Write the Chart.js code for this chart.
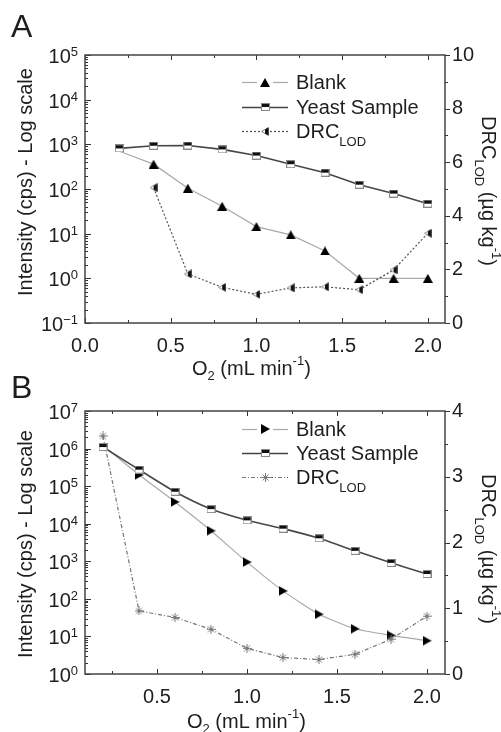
<!DOCTYPE html>
<html>
<head>
<meta charset="utf-8">
<script src="https://cdn.jsdelivr.net/npm/chart.js@4.4.1/dist/chart.umd.min.js"></script>
<style>
  html, body { margin: 0; padding: 0; background: #fff; }
  #wrap { position: relative; width: 501px; height: 732px; }
  #cA, #cB { position: absolute; left: 0; }
  #cA { top: 0; }
  #cB { top: 366px; }
</style>
</head>
<body>
<div id="wrap">
  <canvas id="cA" width="501" height="382"></canvas>
  <canvas id="cB" width="501" height="366"></canvas>
</div>
<script>
// O2 flow (mL/min)
const o2 = [0.2, 0.4, 0.6, 0.8, 1.0, 1.2, 1.4, 1.6, 1.8, 2.0];

// panel A
const blankA = [700, 360, 104, 41, 14.4, 9.4, 4.1, 1, 1, 1];
const yeastA = [810, 930, 940, 770, 560, 360, 232, 125, 79, 47];
const drcA = [null, 5.05, 1.83, 1.33, 1.07, 1.31, 1.35, 1.24, 1.98, 3.35];
const xTicksA = [0, 0.5, 1.0, 1.5, 2.0];
const yTicksA = [0.1, 1, 10, 100, 1000, 10000, 100000];
const y2TicksA = [0, 2, 4, 6, 8, 10];

// panel B
const blankB = [1.2e6, 2.0e5, 3.8e4, 6.5e3, 950, 163, 39, 16, 10.7, 7.7];
const yeastB = [1.1e6, 2.75e5, 7.1e4, 2.45e4, 1.23e4, 7.4e3, 4.1e3, 1.9e3, 910, 460];
const drcB = [3.62, 0.96, 0.86, 0.68, 0.39, 0.25, 0.22, 0.30, 0.53, 0.88];
const xTicksB = [0.5, 1.0, 1.5, 2.0];
const yTicksB = [1, 10, 100, 1000, 10000, 100000, 1000000, 10000000];
const y2TicksB = [0, 1, 2, 3, 4];

const FONT = '"Liberation Sans", Arial, sans-serif';
const INK = '#1e1e1e';

function pts(xs, ys) {
  return xs.map((x, i) => ({ x: x, y: ys[i] })).filter(p => p.y !== null);
}

// small marker pictures
function marker(w, h, draw) {
  const c = document.createElement('canvas');
  c.width = w; c.height = h;
  draw(c.getContext('2d'), w, h);
  return c;
}
const mSquare = marker(9, 8, (g, w, h) => {
  g.fillStyle = '#fff'; g.fillRect(0, 0, w, h);
  g.fillStyle = '#111'; g.fillRect(0, 0, w, 4);
  g.strokeStyle = '#888'; g.lineWidth = 1; g.strokeRect(0.5, 0.5, w - 1, h - 1);
});
const mTriUp = marker(10, 9, (g, w, h) => {
  g.fillStyle = '#000';
  g.beginPath(); g.moveTo(w / 2, 0); g.lineTo(w, h); g.lineTo(0, h); g.closePath(); g.fill();
});
const mTriRight = marker(9, 10, (g, w, h) => {
  g.fillStyle = '#000';
  g.beginPath(); g.moveTo(0, 0); g.lineTo(w, h / 2); g.lineTo(0, h); g.closePath(); g.fill();
});
const mTriLeft = marker(8, 9, (g, w, h) => {
  g.beginPath(); g.moveTo(0.5, h / 2); g.lineTo(w - 0.5, 0.5); g.lineTo(w - 0.5, h - 0.5); g.closePath();
  g.fillStyle = '#fff'; g.fill();
  g.strokeStyle = '#888'; g.lineWidth = 1; g.stroke();
  g.save(); g.clip(); g.fillStyle = '#111'; g.fillRect(w - 4, 0, 4, h); g.restore();
});
const mStar = marker(9, 9, (g, w, h) => {
  g.strokeStyle = '#7a7a7a'; g.lineWidth = 1;
  g.beginPath();
  g.moveTo(0, 4.5); g.lineTo(9, 4.5);
  g.moveTo(4.5, 0); g.lineTo(4.5, 9);
  g.moveTo(1.5, 1.5); g.lineTo(7.5, 7.5);
  g.moveTo(7.5, 1.5); g.lineTo(1.5, 7.5);
  g.stroke();
});

// text made of pieces: [text, size, dy]
function partsWidth(ctx, parts) {
  let w = 0;
  parts.forEach(p => { ctx.font = p[1] + 'px ' + FONT; w += ctx.measureText(p[0]).width; });
  return w;
}
function drawParts(ctx, parts, x, y) {
  let cx = x;
  parts.forEach(p => {
    ctx.font = p[1] + 'px ' + FONT;
    ctx.fillText(p[0], cx, y + p[2]);
    cx += ctx.measureText(p[0]).width;
  });
}

function seg(ctx, x1, y1, x2, y2) {
  ctx.beginPath(); ctx.moveTo(x1, y1); ctx.lineTo(x2, y2); ctx.stroke();
}

const decor = {
  id: 'decor',
  afterDraw(chart, args, o) {
    const ctx = chart.ctx;
    const a = chart.chartArea;
    const sx = chart.scales.x, sy = chart.scales.y, sy2 = chart.scales.y2;
    ctx.save();

    // tick marks
    ctx.strokeStyle = '#333';
    ctx.lineWidth = 1;
    const x0 = Math.ceil(sx.min / 0.25 - 1e-9) * 0.25;
    for (let v = x0; v <= sx.max + 1e-9; v += 0.25) {
      const px = Math.round(sx.getPixelForValue(v)) + 0.5;
      const major = Math.abs(v * 2 - Math.round(v * 2)) < 1e-6;
      const len = major ? 5 : 3;
      seg(ctx, px, a.bottom, px, a.bottom - len);
      seg(ctx, px, a.top, px, a.top + len);
    }
    for (let i = 0; i < o.yTicks.length; i++) {
      const d = o.yTicks[i];
      const py = Math.round(sy.getPixelForValue(d)) + 0.5;
      seg(ctx, a.left, py, a.left + 6, py);
      if (i < o.yTicks.length - 1) {
        for (let k = 2; k <= 9; k++) {
          const pm = Math.round(sy.getPixelForValue(d * k)) + 0.5;
          seg(ctx, a.left, pm, a.left + 3, pm);
        }
      }
    }
    for (let v = sy2.min; v <= sy2.max + 1e-9; v += o.y2Minor) {
      const py = Math.round(sy2.getPixelForValue(v)) + 0.5;
      const major = o.y2Ticks.some(t => Math.abs(t - v) < 1e-6);
      seg(ctx, a.right, py, a.right + (major ? 5 : 3), py);
    }

    // frame
    ctx.strokeStyle = '#444';
    ctx.lineWidth = 1.5;
    ctx.strokeRect(a.left, a.top, a.right - a.left, a.bottom - a.top);

    ctx.fillStyle = INK;
    ctx.textBaseline = 'alphabetic';
    ctx.textAlign = 'left';

    // panel letter
    ctx.font = '32px ' + FONT;
    ctx.fillText(o.letter, o.letterX, o.letterY);

    // log tick labels 10^n
    o.yTicks.forEach(d => {
      const py = sy.getPixelForValue(d);
      const e = String(Math.round(Math.log10(d))).replace('-', '\u2212');
      ctx.font = '13px ' + FONT;
      const ew = ctx.measureText(e).width;
      ctx.fillText(e, 78 - ew, py + 1);
      ctx.font = '20px ' + FONT;
      const bw = ctx.measureText('10').width;
      ctx.fillText('10', 78 - ew - bw, py + 8);
    });

    // left title
    ctx.save();
    ctx.translate(26, o.leftTitleY);
    ctx.rotate(-Math.PI / 2);
    ctx.font = '20px ' + FONT;
    ctx.textAlign = 'center';
    ctx.textBaseline = 'middle';
    ctx.fillText('Intensity (cps) - Log scale', 0, 0);
    ctx.restore();

    // x title
    drawParts(ctx, [['O', 20, 0], ['2', 13, 5], [' (mL min', 20, 0], ['-1', 13, -10], [')', 20, 0]], o.xTitleX, o.xTitleY);

    // right title
    const rParts = [['DRC', 20, 0], ['LOD', 13, 7], [' (\u00b5g kg', 20, 0], ['-1', 13, -10], [')', 20, 0]];
    const rw = partsWidth(ctx, rParts);
    ctx.save();
    ctx.translate(482, o.rightTitleY);
    ctx.rotate(Math.PI / 2);
    drawParts(ctx, rParts, -rw / 2, 0);
    ctx.restore();

    // legend
    o.legend.forEach((it, i) => {
      const y = o.legendRows[i];
      ctx.save();
      ctx.strokeStyle = it.color;
      ctx.lineWidth = it.width;
      ctx.setLineDash(it.dash || []);
      if (it.gap) {
        seg(ctx, 242, y + 0.5, 257, y + 0.5);
        seg(ctx, 273, y + 0.5, 288, y + 0.5);
      } else {
        seg(ctx, 242, y + 0.5, 288, y + 0.5);
      }
      ctx.restore();
      ctx.drawImage(it.marker, Math.round(265 - it.marker.width / 2), Math.round(y - it.marker.height / 2));
      ctx.fillStyle = INK;
      drawParts(ctx, it.text, 296, y + 7);
    });

    ctx.restore();
  }
};

function panel(id, p) {
  return new Chart(document.getElementById(id), {
    type: 'line',
    data: {
      datasets: [
        {
          label: 'Blank', data: pts(o2, p.blank), yAxisID: 'y', order: 2,
          borderColor: '#a9a9a9', borderWidth: 1.2, tension: p.tension,
          pointStyle: p.blankMarker, pointRadius: p.blank.map((v, i) => i === 0 ? 0 : 4)
        },
        {
          label: 'Yeast Sample', data: pts(o2, p.yeast), yAxisID: 'y', order: 0,
          borderColor: '#474747', borderWidth: 1.6, tension: p.tension,
          pointStyle: mSquare, pointRadius: 4
        },
        {
          label: 'DRC LOD', data: pts(o2, p.drc), yAxisID: 'y2', order: 1,
          borderColor: p.drcColor, borderWidth: 1.2, borderDash: p.drcDash, tension: 0,
          pointStyle: p.drcMarker, pointRadius: 4
        }
      ]
    },
    options: {
      responsive: false,
      animation: false,
      events: [],
      devicePixelRatio: 1,
      layout: { padding: { top: p.top, left: 0, right: 0, bottom: 0 } },
      plugins: {
        legend: { display: false },
        tooltip: { enabled: false },
        decor: p.decor
      },
      scales: {
        x: {
          type: 'linear', min: p.xMin, max: 2.1,
          afterBuildTicks: s => { s.ticks = p.xTicks.map(v => ({ value: v })); },
          afterFit: s => { s.height = p.xHeight; },
          ticks: { font: { size: 20, family: FONT }, color: INK, padding: 11, autoSkip: false, maxRotation: 0,
                   callback: v => Number(v).toFixed(1) },
          grid: { display: false, drawTicks: false },
          border: { display: false }
        },
        y: {
          type: 'logarithmic', position: 'left', min: p.yTicks[0], max: p.yTicks[p.yTicks.length - 1],
          afterBuildTicks: s => { s.ticks = p.yTicks.map(v => ({ value: v })); },
          afterFit: s => { s.width = 85; },
          ticks: { display: false },
          grid: { display: false, drawTicks: false },
          border: { display: false }
        },
        y2: {
          type: 'linear', position: 'right', min: 0, max: p.y2Ticks[p.y2Ticks.length - 1],
          afterBuildTicks: s => { s.ticks = p.y2Ticks.map(v => ({ value: v })); },
          afterFit: s => { s.width = 56; },
          ticks: { font: { size: 20, family: FONT }, color: INK, padding: 7 },
          grid: { display: false, drawTicks: false },
          border: { display: false }
        }
      }
    },
    plugins: [decor]
  });
}

panel('cA', {
  blank: blankA, yeast: yeastA, drc: drcA, tension: 0,
  blankMarker: mTriUp, drcMarker: mTriLeft, drcColor: '#555', drcDash: [2, 2],
  xMin: 0, xTicks: xTicksA, yTicks: yTicksA, y2Ticks: y2TicksA,
  top: 55, xHeight: 59,
  decor: {
    letter: 'A', letterX: 11, letterY: 37,
    yTicks: yTicksA, y2Ticks: y2TicksA, y2Minor: 1,
    leftTitleY: 182, xTitleX: 192, xTitleY: 375, rightTitleY: 191,
    legendRows: [82, 107, 131],
    legend: [
      { text: [['Blank', 20, 0]], color: '#aaa', width: 1.2, gap: true, marker: mTriUp },
      { text: [['Yeast Sample', 20, 0]], color: '#444', width: 1.6, marker: mSquare },
      { text: [['DRC', 20, 0], ['LOD', 13, 8]], color: '#555', width: 1.2, dash: [2, 2], marker: mTriLeft }
    ]
  }
});

panel('cB', {
  blank: blankB, yeast: yeastB, drc: drcB, tension: 0.2,
  blankMarker: mTriRight, drcMarker: mStar, drcColor: '#777', drcDash: [4, 2, 1, 2],
  xMin: 0.1, xTicks: xTicksB, yTicks: yTicksB, y2Ticks: y2TicksB,
  top: 45, xHeight: 58,
  decor: {
    letter: 'B', letterX: 11, letterY: 32,
    yTicks: yTicksB, y2Ticks: y2TicksB, y2Minor: 0.5,
    leftTitleY: 178, xTitleX: 187, xTitleY: 362, rightTitleY: 183,
    legendRows: [63, 87, 111],
    legend: [
      { text: [['Blank', 20, 0]], color: '#aaa', width: 1.2, gap: true, marker: mTriRight },
      { text: [['Yeast Sample', 20, 0]], color: '#444', width: 1.6, marker: mSquare },
      { text: [['DRC', 20, 0], ['LOD', 13, 8]], color: '#777', width: 1.2, dash: [4, 2, 1, 2], marker: mStar }
    ]
  }
});
</script>
</body>
</html>
